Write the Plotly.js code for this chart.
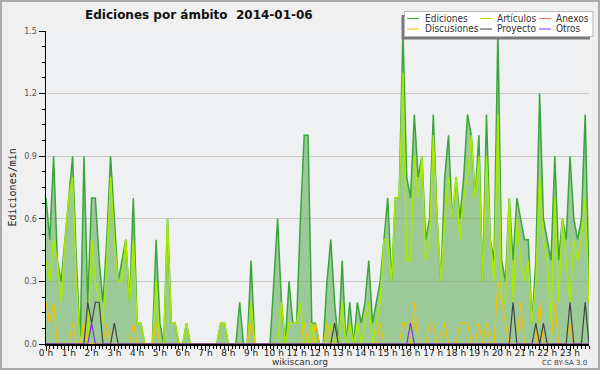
<!DOCTYPE html>
<html><head><meta charset="utf-8">
<script src="https://cdn.plot.ly/plotly-3.0.1.min.js"></script>
<style>
html,body{margin:0;padding:0;background:#f0f0f0;}
#wrap{position:relative;width:600px;height:370px;}
#chart{width:600px;height:370px;}
#frame{position:absolute;left:0;top:0;width:600px;height:370px;box-sizing:border-box;border:2px solid #aaaaaa;pointer-events:none;}
</style></head><body>
<div id="wrap"><div id="chart"></div><div id="frame"></div></div>
<script>
// 10-minute samples, edits per minute, 2014-01-06
const samplesPerHour = 6;
const hourLabels = ['0','1','2','3','4','5','6','7','8','9','10','11','12','13','14','15','16','17','18','19','20','21','22','23'];

const ediciones = [
  0.7,0.5,0.9,0.4,0.3,0.5,  0.7,0.9,0.4,0.0,0.9,0.2,  0.7,0.7,0.4,0.2,0.5,0.9,  0.6,0.3,0.4,0.5,0.2,0.7,
  0.1,0.1,0.0,0.0,0.0,0.5,  0.1,0.0,0.6,0.1,0.1,0.0,  0.0,0.1,0.0,0.0,0.0,0.0,  0.0,0.0,0.0,0.0,0.1,0.1,
  0.0,0.0,0.0,0.2,0.0,0.0,  0.4,0.0,0.0,0.0,0.0,0.0,  0.3,0.6,0.2,0.0,0.3,0.1,  0.1,0.6,1.0,1.0,0.1,0.1,
  0.0,0.0,0.3,0.5,0.2,0.0,  0.4,0.0,0.2,0.0,0.2,0.1,  0.2,0.4,0.1,0.2,0.3,0.5,  0.7,0.3,0.7,0.7,1.5,0.8,
  0.7,1.1,0.8,0.9,0.5,0.6,  1.1,0.6,0.3,0.8,1.0,0.6,  0.8,0.6,0.8,1.1,1.0,0.7,  1.0,0.3,1.1,0.5,0.4,1.5,
  0.4,0.3,0.7,0.4,0.7,0.6,  0.5,0.5,0.1,0.4,1.2,0.6,  0.5,0.4,0.9,0.4,0.6,0.5,  0.9,0.6,0.5,0.6,1.1,0.3
];
const articulos = [
  0.4,0.3,0.5,0.4,0.2,0.5,  0.7,0.8,0.3,0.0,0.1,0.0,  0.5,0.3,0.2,0.1,0.4,0.8,  0.5,0.3,0.3,0.5,0.2,0.5,
  0.1,0.1,0.0,0.0,0.0,0.3,  0.0,0.0,0.6,0.1,0.1,0.0,  0.0,0.1,0.0,0.0,0.0,0.0,  0.0,0.0,0.0,0.0,0.1,0.1,
  0.0,0.0,0.0,0.0,0.0,0.0,  0.2,0.0,0.0,0.0,0.0,0.0,  0.0,0.0,0.2,0.0,0.1,0.1,  0.1,0.2,0.0,0.0,0.1,0.0,
  0.0,0.0,0.0,0.1,0.0,0.0,  0.2,0.0,0.1,0.0,0.1,0.0,  0.1,0.2,0.0,0.1,0.2,0.5,  0.5,0.3,0.7,0.7,1.3,0.4,
  0.4,0.9,0.7,0.9,0.4,0.5,  1.0,0.6,0.3,0.6,0.8,0.6,  0.8,0.5,0.7,0.8,1.0,0.7,  0.9,0.3,0.9,0.5,0.3,1.1,
  0.2,0.2,0.7,0.2,0.6,0.4,  0.3,0.4,0.1,0.3,0.8,0.5,  0.4,0.1,0.7,0.2,0.6,0.4,  0.2,0.5,0.4,0.5,0.7,0.2
];
const anexos = [
  0,0,0,0,0,0,  0,0,0,0,0,0,  0,0,0,0,0,0,  0,0,0,0,0,0,
  0,0,0,0,0,0,  0,0,0,0,0,0,  0,0,0,0,0,0,  0,0,0,0,0,0,
  0,0,0,0,0,0,  0,0,0,0,0,0,  0,0,0,0,0,0,  0,0,0,0,0,0,
  0,0,0,0,0,0,  0,0,0,0,0,0,  0,0,0,0,0,0,  0,0,0,0,0,0,
  0,0,0,0,0,0,  0,0,0,0,0,0,  0,0,0,0,0,0,  0,0,0,0,0,0,
  0,0,0,0,0,0,  0,0,0,0,0,0,  0,0,0,0,0,0,  0,0,0,0,0,0
];
const discusiones = [
  0.2,0.1,0.2,0,0,0,  0,0.1,0,0,0.1,0,  0,0,0,0,0.1,0,  0,0,0,0,0,0.1,
  0,0,0,0,0,0.1,  0,0,0,0,0,0,  0,0,0,0,0,0,  0,0,0,0,0,0,
  0,0,0,0,0,0,  0.1,0,0,0,0,0,  0,0,0,0,0,0,  0,0,0.1,0,0,0.1,
  0,0,0.1,0,0,0,  0,0,0,0,0,0,  0,0,0,0,0.1,0,  0,0,0,0,0.1,0.1,
  0,0.2,0,0,0,0.1,  0.1,0,0,0.1,0,0,  0,0.1,0.1,0.1,0,0,  0.1,0,0.1,0,0,0.3,
  0.2,0.1,0,0,0,0.2,  0,0,0,0,0.2,0,  0,0,0.2,0,0,0,  0.1,0,0,0,0,0
];
const proyecto = [
  0,0,0,0,0,0,  0,0,0,0,0,0.2,  0.1,0.2,0.2,0,0,0,  0.1,0,0,0,0,0,
  0,0,0,0,0,0,  0,0,0,0,0,0,  0,0,0,0,0,0,  0,0,0,0,0,0,
  0,0,0,0,0,0,  0,0,0,0,0,0,  0,0,0,0,0,0,  0,0,0,0,0,0,
  0,0,0,0,0.1,0,  0,0,0,0,0,0,  0,0,0,0,0,0,  0,0,0,0,0,0,
  0,0,0,0,0,0,  0,0,0,0,0,0,  0,0,0,0,0,0,  0,0,0,0,0,0,
  0,0,0,0.2,0,0,  0,0,0,0.1,0,0.1,  0,0,0,0,0,0,  0.2,0,0,0,0.2,0
];
const otros = [
  0,0,0,0,0,0,  0,0,0,0,0,0,  0.1,0,0,0,0,0,  0,0,0,0,0,0,
  0,0,0,0,0,0,  0,0,0,0,0,0,  0,0,0,0,0,0,  0,0,0,0,0,0,
  0,0,0,0,0,0,  0,0,0,0,0,0,  0,0,0,0,0,0,  0,0,0,0,0,0,
  0,0,0,0,0,0,  0,0,0,0,0,0,  0,0,0,0,0,0,  0,0,0,0,0,0,
  0.1,0,0,0,0,0,  0,0,0,0,0,0,  0,0,0,0,0,0,  0,0,0,0,0,0,
  0,0,0,0,0,0,  0,0,0,0,0,0,  0,0,0,0,0,0,  0,0,0,0,0,0
];

const seriesNames = ['Ediciones','Artículos','Anexos','Discusiones','Proyecto','Otros'];
const seriesColors = ['#3aa63a','#a8ea00','#f47a48','#f2c200','#444444','#7a30e8'];

const time = ediciones.map((_, i) => i / samplesPerHour);

// layout geometry (pixels)
const M = {l:46, r:11, t:31, b:26};
const W = 600, H = 370;
const PW = W - M.l - M.r, PH = H - M.t - M.b;
const px = x => (x - M.l) / PW;
const py = y => (H - M.b - y) / PH;

const dataSets = [ediciones, articulos, anexos, discusiones, proyecto, otros];
const traces = dataSets.map((vals, k) => {
  const t = {
    x: time, y: vals, type: 'scatter', mode: 'lines', name: seriesNames[k],
    line: {color: seriesColors[k], width: k < 2 ? 1.5 : 1.2},
    showlegend: false, hoverinfo: 'skip'
  };
  if (k === 0) { t.fill = 'tozeroy'; t.fillcolor = 'rgba(105,178,97,0.62)'; }
  return t;
});

// hand-built legend (3 columns x 2 rows)
const legFont = "'DejaVu Sans Condensed', 'Liberation Sans', sans-serif";
const legPos = [[0,0],[1,0],[2,0],[0,1],[1,1],[2,1]];
const colLine = [407, 480, 539], colText = [423, 495, 554], rowY = [18.5, 29];
const shapes = [
  {type:'rect', xref:'paper', yref:'paper', x0:px(401.5), x1:px(590), y0:py(15), y1:py(39.5), fillcolor:'#7a7a7a', line:{width:0}, layer:'above'},
  {type:'rect', xref:'paper', yref:'paper', x0:px(404.5), x1:px(593), y0:py(11.5), y1:py(36.5), fillcolor:'#ffffff', line:{color:'#b8b8b8', width:1}, layer:'above'}
];
const annotations = [];
seriesNames.forEach((n, k) => {
  const [c, r] = legPos[k];
  shapes.push({type:'line', xref:'paper', yref:'paper', x0:px(colLine[c]), x1:px(colLine[c]+12), y0:py(rowY[r]), y1:py(rowY[r]), line:{color:seriesColors[k], width:1}, layer:'above'});
  annotations.push({xref:'paper', yref:'paper', x:px(colText[c]), y:py(rowY[r]), xanchor:'left', yanchor:'middle', text:n, showarrow:false, font:{family:legFont, size:10, color:'#333'}});
});
annotations.push({xref:'paper', yref:'paper', x:px(12), y:0.5, textangle:-90, text:'Ediciones/min', showarrow:false, xanchor:'center', yanchor:'middle', font:{family:'DejaVu Sans Mono', size:10, color:'#222'}});
annotations.push({xref:'paper', yref:'paper', x:px(300), y:py(362), text:'wikiscan.org', showarrow:false, xanchor:'center', yanchor:'middle', font:{family:'DejaVu Sans', size:9, color:'#333'}});
annotations.push({xref:'paper', yref:'paper', x:px(589), y:py(362.5), text:'CC BY-SA 3.0', showarrow:false, xanchor:'right', yanchor:'middle', font:{family:'DejaVu Sans', size:7, color:'#444'}});

const layout = {
  width: W, height: H,
  margin: M,
  paper_bgcolor: '#f0f0f0', plot_bgcolor: '#eef0f2',
  title: {text: '<b>Ediciones por ámbito\u00a0 2014-01-06</b>', x: 85/W, xanchor: 'left', xref: 'container', y: 1 - 15/H, yanchor: 'middle', yref: 'container', font: {family: 'DejaVu Sans', size: 12, color: '#111'}},
  xaxis: {
    range: [0, (ediciones.length - 1) / samplesPerHour], tickmode: 'array',
    tickvals: hourLabels.map((_, h) => h), ticktext: hourLabels.map(h => h + ' h'),
    ticks: 'outside', ticklen: 5, tickwidth: 1, tickcolor: '#000', ticklabelstandoff: -5,
    showline: true, linecolor: '#000', linewidth: 1.5, showgrid: false, zeroline: false,
    tickfont: {family: 'DejaVu Sans', size: 9, color: '#222'},
    minor: {tickmode: 'linear', tick0: 0, dtick: 1 / samplesPerHour, ticks: 'outside', ticklen: 3, tickwidth: 1, tickcolor: '#000', showgrid: false},
    fixedrange: true
  },
  yaxis: {
    range: [0, 1.5], tickmode: 'linear', tick0: 0, dtick: 0.3, tickformat: '.1f',
    ticks: 'outside', ticklen: 6, tickwidth: 1, tickcolor: '#000',
    showline: true, linecolor: '#000', linewidth: 1.5,
    gridcolor: '#c8c8c8', gridwidth: 1, zeroline: false,
    tickfont: {family: 'DejaVu Sans', size: 8, color: '#555'},
    minor: {tickmode: 'linear', tick0: 0, dtick: 0.075, ticks: 'outside', ticklen: 3, tickwidth: 1, tickcolor: '#000', showgrid: false},
    fixedrange: true
  },
  shapes: shapes,
  annotations: annotations,
  showlegend: false
};

Plotly.newPlot('chart', traces, layout, {displayModeBar: false, staticPlot: true});
</script>
</body></html>
